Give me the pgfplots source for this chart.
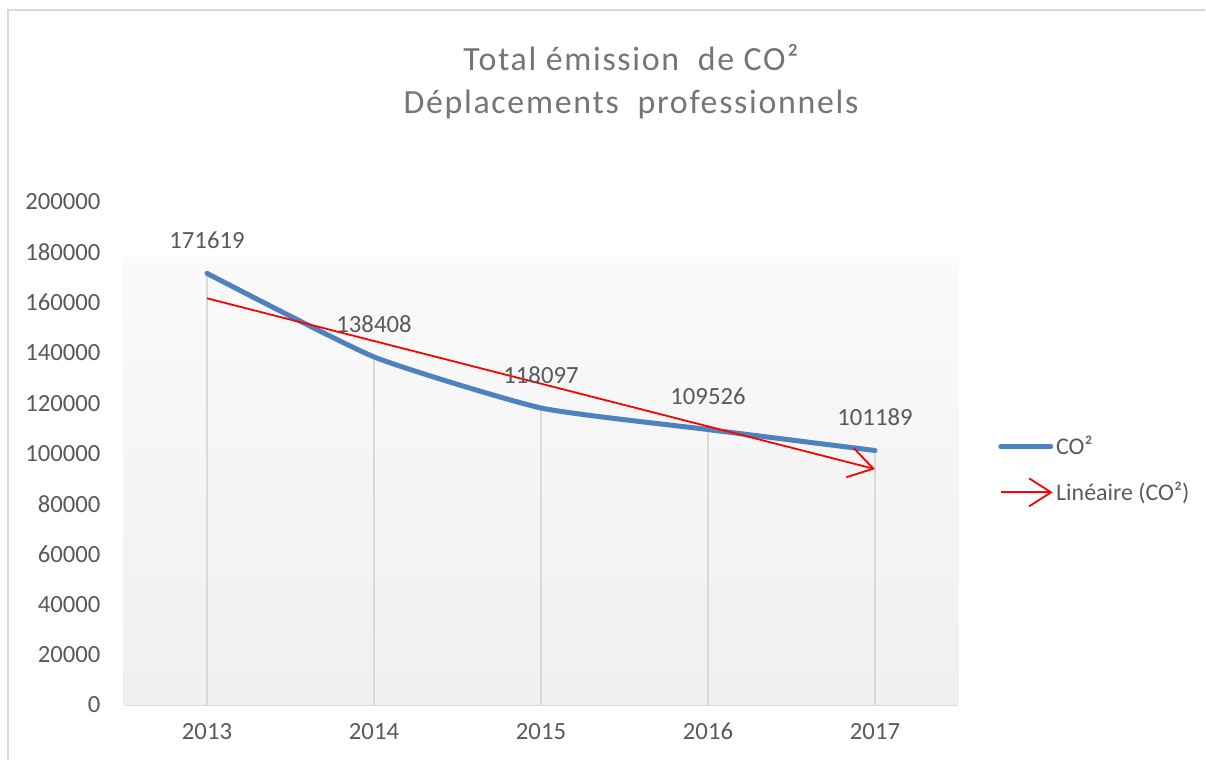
\documentclass[border=0pt]{standalone}
\usepackage{pgfplots}
\pgfplotsset{compat=1.18}
\usepackage{fontspec}
\setmainfont{Carlito}
\newfontfamily\titlefont[LetterSpace=5]{Carlito}
\usetikzlibrary{arrows.meta}
\definecolor{txtgray}{HTML}{595959}
\definecolor{titlegray}{HTML}{757575}
\definecolor{linegray}{HTML}{D9D9D9}
\definecolor{co2blue}{HTML}{4F81BD}
\begin{document}
\begin{tikzpicture}
\useasboundingbox (0,0) rectangle (603bp,380bp);
\draw[linegray, line width=1bp] (4bp,0) -- (4bp,375bp) -- (602.5bp,375bp);
\node[text=titlegray, font=\titlefont\fontsize{17}{21.5}\selectfont, align=center] at (315.5bp,339.25bp)
  {Total émission \ de CO²\\Déplacements \ professionnels};
\begin{axis}[
  at={(61.75bp,27.5bp)}, anchor=south west,
  scale only axis, width=417.5bp, height=251.5bp,
  xmin=0.5, xmax=5.5, ymin=0, ymax=200000,
  clip=false,
  axis lines*=left,
  x axis line style={draw=linegray, line width=1bp, -},
  y axis line style={draw=none},
  xtick={1,2,3,4,5},
  xticklabels={2013,2014,2015,2016,2017},
  ytick={0,20000,40000,60000,80000,100000,120000,140000,160000,180000,200000},
  yticklabels={0,20000,40000,60000,80000,100000,120000,140000,160000,180000,200000},
  tick style={draw=none},
  scaled y ticks=false,
  tick label style={text=txtgray, font=\fontsize{12.4}{14}\selectfont},
  yticklabel style={xshift=-8bp},
  xticklabel style={yshift=-5bp, text height=8.5bp, text depth=0pt},
  legend style={draw=none, fill=none, at={(1.04,0.468)}, anchor=west,
    font=\fontsize{12}{14}\selectfont, text=txtgray, row sep=8bp,
    nodes={inner xsep=1bp}},
  legend cell align=left,
]
\addplot[draw=none, forget plot, top color=black!2, bottom color=black!6]
  coordinates {(0.5,178000) (5.5,178000)} \closedcycle;
\addplot[ycomb, linegray, line width=0.75bp, forget plot]
  coordinates {(1,171619) (2,138408) (3,118097) (4,109526) (5,101189)};
\addplot[co2blue, line width=2.5bp, smooth, tension=0.3, line cap=round,
  nodes near coords, point meta=explicit symbolic,
  every node near coord/.append style={anchor=center, yshift=16.5bp, text=txtgray, font=\fontsize{12.4}{14}\selectfont},
  legend image code/.code={\draw[co2blue, line width=2.5bp, line cap=round] (0bp,0bp) -- (25bp,0bp);}]
  coordinates {(1,171619)[171619] (2,138408)[138408] (3,118097)[118097] (4,109526)[109526] (5,101189)[101189]};
\addlegendentry{CO²}
\addplot[red, line width=0.9bp, -{Straight Barb[length=12bp,width=15bp]},
  legend image code/.code={\draw[red, line width=0.9bp, -{Straight Barb[length=11bp,width=14bp]}] (0bp,0bp) -- (26bp,0bp);}]
  coordinates {(1,161716) (5,93819)};
\addlegendentry{Linéaire (CO²)}
\end{axis}
\end{tikzpicture}
\end{document}
